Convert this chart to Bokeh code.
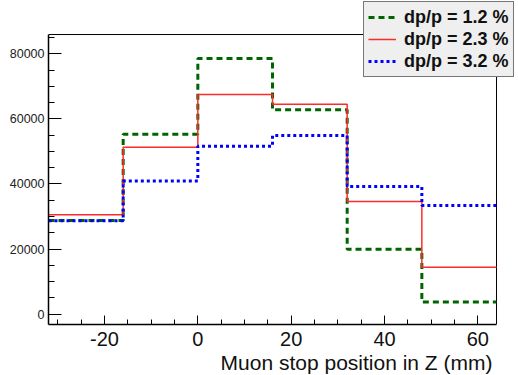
from bokeh.plotting import figure
from bokeh.models import (Range1d, SingleIntervalTicker, Legend, LegendItem,
                          Title, PrintfTickFormatter)
from bokeh.embed import file_html
from bokeh.resources import INLINE

# Bin edges (mm) and bin contents
edges = [-32, -16, 0, 16, 32, 48, 64]
dp12 = [28800, 55300, 78600, 62800, 19900, 3700]
dp23 = [30500, 51300, 67500, 64500, 34600, 14400]
dp32 = [28700, 40900, 51600, 54900, 39200, 33400]
labels = ["dp/p = 1.2 %", "dp/p = 2.3 %", "dp/p = 3.2 %"]
x_title = "Muon stop position in Z (mm)"

# visible histogram frame (data units)
X0, X1 = -32, 64
Y0, Y1 = -3200, 85940
# the plotting area is extended up to the canvas top/right edge so that the
# legend (which sticks out of the histogram frame) is not clipped
X_EXT = 68.71
Y_EXT = 96400

FONT = "Liberation Sans"

p = figure(width=518, height=375,
           x_range=Range1d(X0, X_EXT), y_range=Range1d(Y0, Y_EXT),
           output_backend="svg", toolbar_location=None,
           min_border_left=48, min_border_right=0,
           min_border_top=0, min_border_bottom=51)
p.xgrid.visible = False
p.ygrid.visible = False
p.outline_line_color = None
p.background_fill_color = "white"
p.border_fill_color = "white"

# histogram frame: top and right sides
p.line([X0, X1, X1], [Y1, Y1, Y0], line_color="black", line_width=1)

def steps(vals):
    return list(vals) + [vals[-1]]

r1 = p.step(edges, steps(dp12), mode="after", line_color="#006400",
            line_width=3, line_dash="6 4")
r2 = p.step(edges, steps(dp23), mode="after", line_color="#ff2a2a",
            line_width=1.5)
r3 = p.step(edges, steps(dp32), mode="after", line_color="#0000ff",
            line_width=3, line_dash="3 3")

# axes
xa = p.xaxis[0]
xa.bounds = (X0, X1)
xa.ticker = SingleIntervalTicker(interval=20, num_minor_ticks=4)
xa.formatter = PrintfTickFormatter(format="%d")
xa.major_tick_in = 9
xa.major_tick_out = 0
xa.minor_tick_in = 5
xa.minor_tick_out = 0
xa.axis_line_width = 1.5
xa.major_label_text_font = FONT
xa.major_label_text_font_size = "20px"
xa.major_label_text_color = "#111111"
xa.major_label_standoff = 7

ya = p.yaxis[0]
ya.bounds = (Y0, Y1)
ya.ticker = SingleIntervalTicker(interval=20000, num_minor_ticks=4)
ya.major_tick_in = 13
ya.major_tick_out = 0
ya.minor_tick_in = 6
ya.minor_tick_out = 0
ya.axis_line_width = 1.5
ya.major_label_text_font = FONT
ya.major_label_text_font_size = "12.5px"
ya.major_label_text_color = "#222222"
ya.major_label_standoff = 4
ya.major_label_orientation = "horizontal"

t = Title(text=x_title, align="right", text_font=FONT,
          text_font_size="21px", text_font_style="normal",
          text_color="#111111", offset=26, standoff=0)
p.add_layout(t, "below")

legend = Legend(items=[LegendItem(label=labels[0], renderers=[r1]),
                       LegendItem(label=labels[1], renderers=[r2]),
                       LegendItem(label=labels[2], renderers=[r3])],
                location=(315, 247))
legend.label_text_font = FONT
legend.label_text_font_size = "18px"
legend.label_text_font_style = "bold"
legend.label_text_color = "#111111"
legend.padding = 4
legend.spacing = 0
legend.margin = 0
legend.glyph_height = 22
legend.label_height = 22
legend.glyph_width = 28
legend.label_standoff = 8
legend.border_line_color = "black"
legend.border_line_width = 1
legend.background_fill_color = "#efefef"
legend.background_fill_alpha = 1.0
p.add_layout(legend, "center")

open("out.html", "w").write(file_html(p, INLINE))
